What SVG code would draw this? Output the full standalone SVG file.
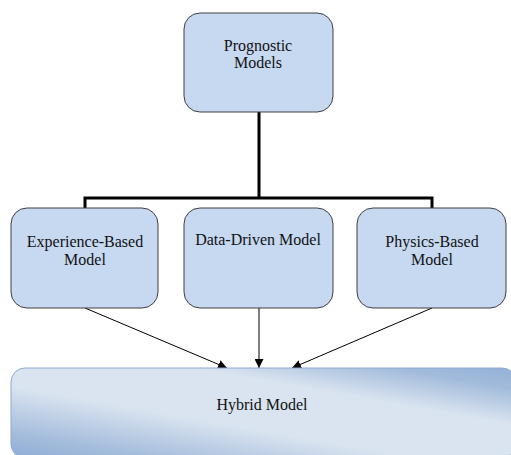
<svg xmlns="http://www.w3.org/2000/svg" width="511" height="455" viewBox="0 0 511 455">
<style>
.box{fill:#c6d9f1;stroke:#3f3f3f;stroke-width:1}
.t{font-family:"Liberation Serif","Times New Roman","DejaVu Serif",serif;font-size:16px;fill:#111;text-anchor:middle}
.tree{fill:none;stroke:#000;stroke-width:3}
.arr{stroke:#000;stroke-width:1;fill:none;marker-end:url(#ah)}
</style>
<defs>
<marker id="ah" viewBox="0 0 10 10" refX="10" refY="5" markerWidth="9" markerHeight="9" markerUnits="userSpaceOnUse" orient="auto">
<path d="M0,0 L10,5 L0,10 z" fill="#000"/>
</marker>
<linearGradient id="hg" x1="0" y1="1" x2="1" y2="0">
<stop offset="0" stop-color="#8eacd4"/>
<stop offset="0.15" stop-color="#a6bedd"/>
<stop offset="0.4" stop-color="#dae4f0"/>
<stop offset="0.68" stop-color="#dae4f0"/>
<stop offset="0.88" stop-color="#a2bbdb"/>
<stop offset="1" stop-color="#93b1d6"/>
</linearGradient>
</defs>
<g id="connectors">
<path class="tree" d="M259,112 V198 M85,208 V198 H432 V208"/>
<line class="arr" x1="85" y1="308" x2="227" y2="368"/>
<line class="arr" x1="259" y1="308" x2="259" y2="368"/>
<line class="arr" x1="432" y1="308" x2="292" y2="368"/>
</g>
<g id="prognostic">
<rect class="box" x="184" y="13" width="149" height="99" rx="16"/>
<text class="t" x="258" y="51">Prognostic</text>
<text class="t" x="258" y="68">Models</text>
</g>
<g id="experience">
<rect class="box" x="11" y="208" width="147" height="100" rx="16"/>
<text class="t" x="85" y="247">Experience-Based</text>
<text class="t" x="85" y="265">Model</text>
</g>
<g id="datadriven">
<rect class="box" x="184" y="208" width="149" height="100" rx="16"/>
<text class="t" x="258" y="245">Data-Driven Model</text>
</g>
<g id="physics">
<rect class="box" x="357" y="208" width="149" height="100" rx="16"/>
<text class="t" x="432" y="247">Physics-Based</text>
<text class="t" x="432" y="265">Model</text>
</g>
<g id="hybrid">
<rect x="11" y="368" width="505" height="90" rx="14" fill="url(#hg)" stroke="#8eaad2" stroke-width="1"/>
<text class="t" x="262" y="410">Hybrid Model</text>
</g>
</svg>
